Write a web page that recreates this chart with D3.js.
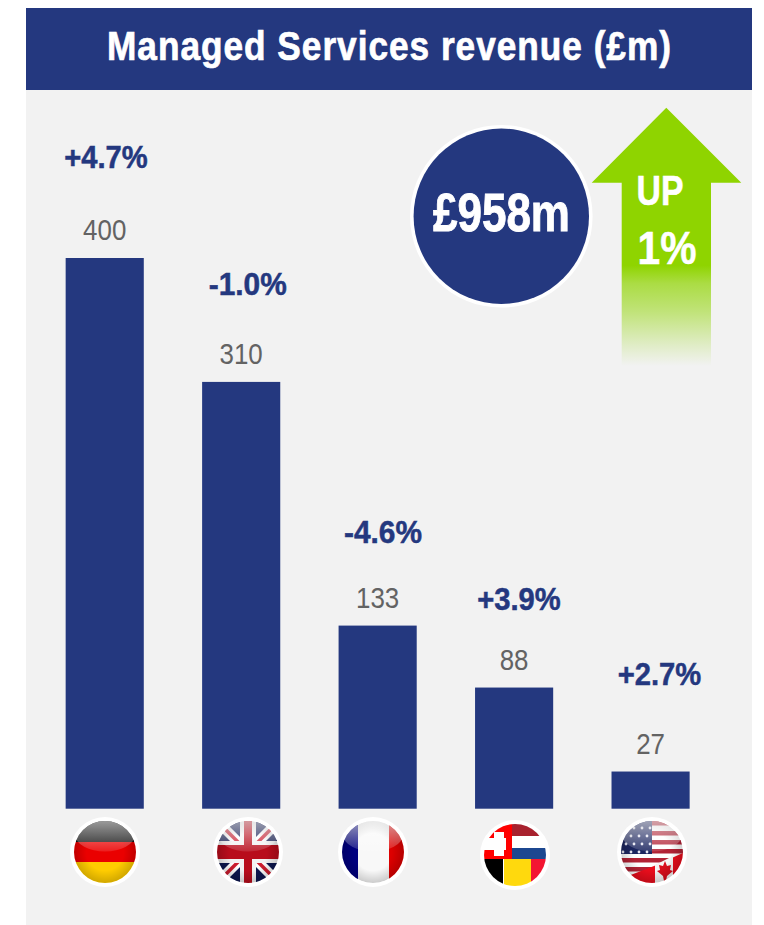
<!DOCTYPE html>
<html><head><meta charset="utf-8">
<script src="https://cdn.jsdelivr.net/npm/d3@7"></script>
<style>html,body{margin:0;padding:0;background:#fff}svg{display:block}text{font-family:"Liberation Sans",Arial,sans-serif}</style>
</head><body><div id="c"></div>
<script>
const categories=["Germany","UK","France","Other Europe","North America"];
const revenue=[400,310,133,88,27];
const changes=["+4.7%","-1.0%","-4.6%","+3.9%","+2.7%"];
const titleText="Managed Services revenue (£m)";
const totalText="£958m";
const upTexts=["UP","1%"];
const navy="#24387f";

// layout constants
const flagX=[105,248,373,515,652];
const flagY=[852,852,852,855,852];
const changeX=[106,247.7,383,519,659.4];
const changeWidth=[83.5,78,78,83.5,83.5];
const changeGap=[90.3,87,82.7,78,86.3];

const svg=d3.select("#c").append("svg").attr("width",764).attr("height",925);
const defs=svg.append("defs");
svg.append("rect").attr("x",26).attr("y",8).attr("width",726).attr("height",917).attr("fill","#f2f2f2");
svg.append("rect").attr("x",26).attr("y",8).attr("width",726).attr("height",82).attr("fill",navy);
const sx=0.86;
svg.append("text").attr("transform",`translate(107,59.5) scale(${sx},1)`)
  .attr("fill","#fff").attr("stroke","#fff").attr("stroke-width",0.7).attr("font-weight","bold").attr("font-size",41)
  .attr("textLength",564/sx).attr("lengthAdjust","spacing").text(titleText);

const x=d3.scaleBand().domain(categories).range([37,718.3]).paddingInner(0.4275).paddingOuter(0.21);
const y=d3.scaleLinear().domain([0,400]).range([808.7,258]);

const g=svg.append("g");
g.selectAll("rect").data(categories).join("rect")
  .attr("x",d=>x(d)).attr("width",x.bandwidth())
  .attr("y",(d,i)=>y(revenue[i])).attr("height",(d,i)=>y(0)-y(revenue[i])).attr("fill",navy);
g.selectAll("text.v").data(categories).join("text").attr("class","v")
  .attr("x",d=>x(d)+x.bandwidth()/2).attr("y",(d,i)=>y(revenue[i])-18)
  .attr("text-anchor","middle").attr("font-size",30).attr("fill","#636363")
  .attr("textLength",(d,i)=>String(revenue[i]).length*14.4).attr("lengthAdjust","spacingAndGlyphs")
  .text((d,i)=>revenue[i]);
g.selectAll("text.c").data(categories).join("text").attr("class","c")
  .attr("x",(d,i)=>changeX[i]).attr("y",(d,i)=>y(revenue[i])-changeGap[i])
  .attr("text-anchor","middle").attr("font-size",31).attr("font-weight","bold").attr("fill",navy)
  .attr("stroke",navy).attr("stroke-width",0.5)
  .attr("textLength",(d,i)=>changeWidth[i]).attr("lengthAdjust","spacingAndGlyphs")
  .text((d,i)=>changes[i]);

// total circle
svg.append("circle").attr("cx",501.3).attr("cy",216.3).attr("r",91.3).attr("fill","#fff");
svg.append("circle").attr("cx",501.3).attr("cy",216.3).attr("r",87.7).attr("fill",navy);
svg.append("text").attr("x",501.5).attr("y",231).attr("text-anchor","middle").attr("fill","#fff")
  .attr("stroke","#fff").attr("stroke-width",0.9)
  .attr("font-weight","bold").attr("font-size",54).attr("textLength",137).attr("lengthAdjust","spacingAndGlyphs").text(totalText);

// arrow
const ag=defs.append("linearGradient").attr("id","ag").attr("gradientUnits","userSpaceOnUse")
  .attr("x1",0).attr("x2",0).attr("y1",108).attr("y2",366);
[[0,1],[0.61,1],[0.68,0.72],[0.79,0.5],[0.92,0.18],[1,0]].forEach(s=>ag.append("stop")
  .attr("offset",s[0]).attr("stop-color","#8fd400").attr("stop-opacity",s[1]));
svg.append("path").attr("fill","url(#ag)")
  .attr("d",d3.line()([[666.3,107.7],[741.3,182.7],[711,182.7],[711,366],[621.7,366],[621.7,182.7],[591.7,182.7]])+"Z");
svg.append("text").attr("x",660).attr("y",205).attr("text-anchor","middle").attr("fill","#fff")
  .attr("stroke","#fff").attr("stroke-width",0.5)
  .attr("font-weight","bold").attr("font-size",42).attr("textLength",47).attr("lengthAdjust","spacingAndGlyphs").text(upTexts[0]);
svg.append("text").attr("x",667).attr("y",263.5).attr("text-anchor","middle").attr("fill","#fff")
  .attr("stroke","#fff").attr("stroke-width",0.5)
  .attr("font-weight","bold").attr("font-size",47).attr("textLength",59).attr("lengthAdjust","spacingAndGlyphs").text(upTexts[1]);

// flags
const R=31;
const gloss=defs.append("linearGradient").attr("id","gloss").attr("x1",0).attr("x2",0).attr("y1",0).attr("y2",1);
gloss.append("stop").attr("offset",0).attr("stop-color","#fff").attr("stop-opacity",0.6);
gloss.append("stop").attr("offset",1).attr("stop-color","#fff").attr("stop-opacity",0.12);
const vig=defs.append("radialGradient").attr("id","vig");
vig.append("stop").attr("offset",0.6).attr("stop-color","#000").attr("stop-opacity",0);
vig.append("stop").attr("offset",1).attr("stop-color","#000").attr("stop-opacity",0.18);
defs.append("filter").attr("id","soft").append("feGaussianBlur").attr("stdDeviation",0.5);
function flag(i,draw,glossy=true){
  const cx=flagX[i],cy=flagY[i];
  svg.append("circle").attr("cx",cx).attr("cy",cy).attr("r",R+4).attr("fill","#fff");
  const id="clip"+i;
  defs.append("clipPath").attr("id",id).append("circle").attr("cx",cx).attr("cy",cy).attr("r",R);
  const outer=svg.append("g").attr("clip-path",`url(#${id})`);
  const f=outer.append("g").attr("filter","url(#soft)");
  const r=(a,b,w,h,c)=>f.append("rect").attr("x",cx+a).attr("y",cy+b).attr("width",w).attr("height",h).attr("fill",c);
  const l=(pts,c,sw)=>f.append("path").attr("d",d3.line()(pts.map(p=>[cx+p[0],cy+p[1]]))).attr("stroke",c).attr("stroke-width",sw).attr("fill","none");
  const p=(pts,c)=>f.append("path").attr("d",d3.line()(pts.map(q=>[cx+q[0],cy+q[1]]))+"Z").attr("fill",c);
  draw(r,l,p,f,cx,cy);
  if(glossy){
    outer.append("circle").attr("cx",cx).attr("cy",cy).attr("r",R).attr("fill","url(#vig)");
    outer.append("ellipse").attr("cx",cx).attr("cy",cy-R*0.52).attr("rx",R*0.95).attr("ry",R*0.5).attr("fill","url(#gloss)");
  }
}
flag(0,r=>{r(-R-2,-R-2,2*R+4,23,"#0c0c0c");r(-R-2,-10,2*R+4,20,"#ea0000");r(-R-2,10,2*R+4,R-8,"#ffcc00");});
flag(1,(r,l)=>{
  r(-R-2,-R-2,2*R+4,2*R+4,"#0a1650");
  l([[-R,-R],[R,R]],"#fff",10);l([[-R,R],[R,-R]],"#fff",10);
  l([[-R,-R],[R,R]],"#cc1f2f",3.5);l([[-R,R],[R,-R]],"#cc1f2f",3.5);
  r(-R-2,-11,2*R+4,22,"#f2f2f2");r(-8,-R-2,16,2*R+4,"#f2f2f2");
  r(-R-2,-7,2*R+4,14,"#b80c1c");r(-4,-R-2,8,2*R+4,"#b80c1c");
});
flag(2,r=>{r(-R-2,-R-2,18,2*R+4,"#00007f");r(-15,-R-2,31,2*R+4,"#f8f8f8");r(16,-R-2,R-14,2*R+4,"#dd0000");});
flag(3,(r)=>{
  r(-R-2,-R-2,30,37,"#ff0000");r(-R-2,-17,24,12,"#fff");r(-21,-23,10,24,"#fff");
  r(-3,-R-2,R+5,14,"#a8202e");r(-3,-19,R+5,12,"#fff");r(-3,-7,R+5,11,"#1f4690");
  r(-R-2,4,21,R,"#000");r(-11,4,27,R,"#ffd90c");r(16,4,R-13,R,"#f31830");
},false);
flag(4,(r,l,p,f,cx,cy)=>{
  r(-R-2,-R-2,2*R+4,2*R+4,"#fff");
  [-31,-21,-12,-3,6,15,24].forEach(s=>r(-R-2,s,2*R+4,4.5,"#b22234"));
  r(-R-2,-R-2,33,35,"#1a2560");
  [-24,-16,-8,0].forEach((b,j)=>[-26,-18,-10,-2].forEach(a=>f.append("circle").attr("cx",cx+a-(j%2?3:0)).attr("cy",cy+b).attr("r",1.4).attr("fill","#e8e8f4")));
  p([[R+2,0],[R+2,R+2],[-24,R+2],[-24,24],[2,14]],"#e8101c");
  p([[21,4],[21,R+2],[3,R+2],[3,13]],"#f4f4f4");
  p([[13,9],[15,14],[19,13],[18,18],[21,19],[15,24],[14,29],[12,29],[11,24],[5,19],[8,18],[7,13],[11,14]],"#d90f1e");
});
</script></body></html>
